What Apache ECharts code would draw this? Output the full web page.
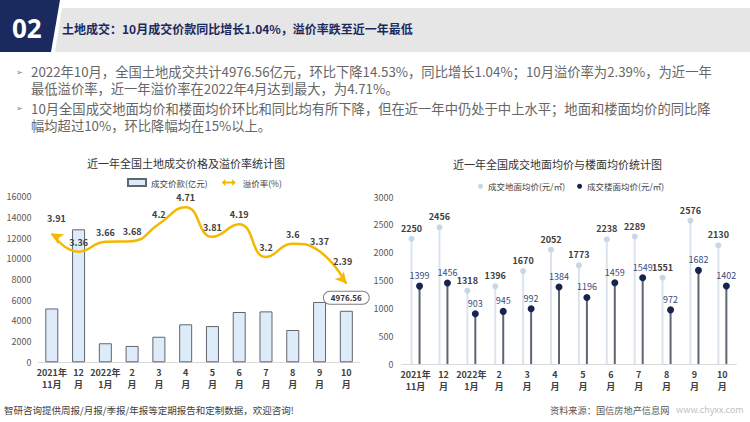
<!DOCTYPE html>
<html><head><meta charset="utf-8">
<script src="https://cdn.jsdelivr.net/npm/echarts@6/dist/echarts.min.js"></script>
<style>html,body{margin:0;padding:0;background:#fff;}#c{width:750px;height:422px;}</style>
</head><body><div id="c"></div>
<script>
// ---- data ----
const leftCategories = ["2021年\n11月","12\n月","2022年\n1月","2\n月","3\n月","4\n月","5\n月","6\n月","7\n月","8\n月","9\n月","10\n月"];
const dealAmount = [5200, 12850, 1840, 1580, 2470, 3670, 3500, 4860, 4920, 3120, 5830, 4976.56];
const premiumRate = [3.91, 3.36, 3.66, 3.68, 4.2, 4.71, 3.81, 4.19, 3.2, 3.6, 3.37, 2.39];
const leftTicks = [0, 2000, 4000, 6000, 8000, 10000, 12000, 14000, 16000];
const rightCategories = leftCategories;
const landPrice = [2250, 2456, 1318, 1396, 1670, 2052, 1773, 2238, 2289, 1551, 2576, 2130];
const floorPrice = [1399, 1456, 903, 945, 992, 1384, 1196, 1459, 1549, 972, 1682, 1402];
const rightTicks = [0, 500, 1000, 1500, 2000, 2500, 3000];

const FONT = '"Noto Sans CJK SC", "Noto Sans", sans-serif';
const chart = echarts.init(document.getElementById('c'), null, {renderer: 'svg'});

function stemRender(offset, stemColor, dotColor, r, labelColor, labelWeight) {
  return function (params, api) {
    const i = api.value(0), v = api.value(1);
    const top = api.coord([i, v]);
    const base = api.coord([i, 0]);
    const x = top[0] + offset;
    return {
      type: 'group',
      children: [
        {type: 'line', shape: {x1: x, y1: base[1], x2: x, y2: top[1]}, style: {stroke: stemColor, lineWidth: 2}},
        {type: 'circle', shape: {cx: x, cy: top[1], r: r}, style: {fill: dotColor}},
        {type: 'text', style: {text: String(v), x: x, y: top[1] - 6, align: 'center', verticalAlign: 'bottom',
          fill: labelColor, font: labelWeight + ' 9px ' + FONT}}
      ]
    };
  };
}

const xLabel = {color: '#404040', fontSize: 9, fontWeight: 'bold', lineHeight: 12, margin: 4, fontFamily: FONT, interval: 0};
const plain = v => String(v);

const option = {
  animation: false,
  textStyle: {fontFamily: FONT},
  graphic: [
    {type: 'polygon', shape: {points: [[62, 8], [750, 8], [750, 52], [55, 52]]}, style: {fill: '#e6e6e6'}},
    {type: 'polygon', shape: {points: [[0, 0], [60, 0], [51, 52], [0, 52]]}, style: {fill: '#1b2a5e'}},
    {type: 'text', left: 12, top: 15, style: {text: '02', fill: '#fff', font: 'bold 26px "Open Sans", ' + FONT}},
    {type: 'text', left: 62, top: 22, style: {text: '土地成交：10月成交价款同比增长1.04%，溢价率跌至近一年最低', fill: '#1b2a5e', font: 'bold 12px ' + FONT}},
    {type: 'text', left: 16, top: 67, style: {text: '➢', fill: '#7f7f7f', font: '8px ' + FONT}},
    {type: 'text', left: 31, top: 63, style: {text: '2022年10月，全国土地成交共计4976.56亿元，环比下降14.53%，同比增长1.04%；10月溢价率为2.39%，为近一年\n最低溢价率，近一年溢价率在2022年4月达到最大，为4.71%。', fill: '#666', font: '13.3px ' + FONT, lineHeight: 17.3}},
    {type: 'text', left: 16, top: 103, style: {text: '➢', fill: '#7f7f7f', font: '8px ' + FONT}},
    {type: 'text', left: 31, top: 99.5, style: {text: '10月全国成交地面均价和楼面均价环比和同比均有所下降，但在近一年中仍处于中上水平；地面和楼面均价的同比降\n幅均超过10%，环比降幅均在15%以上。', fill: '#666', font: '13.3px ' + FONT, lineHeight: 17.3}},
    {type: 'text', left: 87, top: 157, style: {text: '近一年全国土地成交价格及溢价率统计图', fill: '#333', font: '11px ' + FONT}},
    {type: 'text', left: 453, top: 158, style: {text: '近一年全国成交地面均价与楼面均价统计图', fill: '#333', font: '11px ' + FONT}},
    {type: 'text', left: 4, top: 405, style: {text: '智研咨询提供周报/月报/季报/年报等定期报告和定制数据，欢迎咨询!', fill: '#404040', font: '9.5px ' + FONT}},
    {type: 'text', left: 550, top: 405, style: {text: '资料来源：国信房地产信息网', fill: '#595959', font: '9.2px ' + FONT}},
    {type: 'text', left: 676, top: 405, style: {text: 'www.chyxx.com', fill: '#bfbfbf', font: '9px ' + FONT}}
  ],
  legend: [
    {left: 122, top: 173, itemGap: 14, itemWidth: 18, itemHeight: 7,
      textStyle: {fontSize: 8.5, color: '#404040'},
      data: [{name: '成交价款(亿元)', icon: 'rect'},
        {name: '溢价率(%)', icon: 'path://M0,5L5,0L5,3.5L15,3.5L15,0L20,5L15,10L15,6.5L5,6.5L5,10Z'}]},
    {left: 473, top: 177, itemGap: 12, itemWidth: 5, itemHeight: 5,
      textStyle: {fontSize: 8.5, color: '#404040'},
      data: [{name: '成交地面均价(元/㎡)', icon: 'circle'}, {name: '成交楼面均价(元/㎡)', icon: 'circle'}]}
  ],
  grid: [
    {left: 38.4, right: 390.3, top: 196.7, bottom: 59.7},
    {left: 401.6, right: 13.7, top: 197, bottom: 58}
  ],
  xAxis: [
    {type: 'category', gridIndex: 0, data: leftCategories, axisTick: {show: false},
      axisLine: {lineStyle: {color: '#d9d9d9'}}, axisLabel: xLabel},
    {type: 'category', gridIndex: 1, data: rightCategories, axisTick: {show: false},
      axisLine: {lineStyle: {color: '#d9d9d9'}}, axisLabel: xLabel}
  ],
  yAxis: [
    {type: 'value', gridIndex: 0, min: leftTicks[0], max: leftTicks[leftTicks.length - 1], interval: 2000,
      splitLine: {show: false}, axisLine: {show: false},
      axisLabel: {color: '#595959', fontSize: 9, margin: 7, formatter: plain}},
    {type: 'value', gridIndex: 0, min: 0, max: 5.03, show: false, splitLine: {show: false}},
    {type: 'value', gridIndex: 1, min: rightTicks[0], max: rightTicks[rightTicks.length - 1], interval: 500,
      splitLine: {show: false}, axisLine: {show: false},
      axisLabel: {color: '#595959', fontSize: 9, margin: 8, formatter: plain}}
  ],
  series: [
    {name: '成交价款(亿元)', type: 'bar', xAxisIndex: 0, yAxisIndex: 0, barWidth: 13,
      itemStyle: {color: '#deecf9', borderColor: '#5f6670', borderWidth: 1},
      data: dealAmount.map((v, i) => i === dealAmount.length - 1 ? {
        value: v,
        label: {show: true, position: 'top', distance: 7, formatter: '{c}', color: '#333', fontSize: 8, fontWeight: 'bold',
          backgroundColor: '#fff', borderColor: '#7f7f7f', borderWidth: 1, borderRadius: 8, padding: [2, 7]}
      } : v)},
    {name: '溢价率(%)', type: 'line', xAxisIndex: 0, yAxisIndex: 1, smooth: 0.5,
      lineStyle: {color: '#f5b800', width: 2.5}, itemStyle: {color: '#f5b800'},
      symbol: 'circle', symbolSize: 0.1,
      label: {show: true, position: 'top', distance: 5, color: '#404040', fontSize: 9, fontWeight: 'bold'},
      data: premiumRate.map((v, i) => {
        if (i === 0) return {value: v, symbol: 'arrow', symbolSize: [9, 11], symbolRotate: 58};
        if (i === premiumRate.length - 1) return {value: v, symbol: 'arrow', symbolSize: [9, 11], symbolRotate: -140};
        return v;
      })},
    {name: '成交地面均价(元/㎡)', type: 'custom', xAxisIndex: 1, yAxisIndex: 2,
      itemStyle: {color: '#c9d7e4'},
      renderItem: stemRender(-4, '#dbe4ed', '#c9d7e4', 3, '#404040', 'bold'),
      encode: {x: 0, y: 1},
      data: landPrice.map((v, i) => [i, v])},
    {name: '成交楼面均价(元/㎡)', type: 'custom', xAxisIndex: 1, yAxisIndex: 2,
      itemStyle: {color: '#15254f'},
      renderItem: stemRender(4, '#5f6672', '#15254f', 3.5, '#3b4a7a', 'normal'),
      encode: {x: 0, y: 1},
      data: floorPrice.map((v, i) => [i, v])}
  ]
};
chart.setOption(option);
</script></body></html>
